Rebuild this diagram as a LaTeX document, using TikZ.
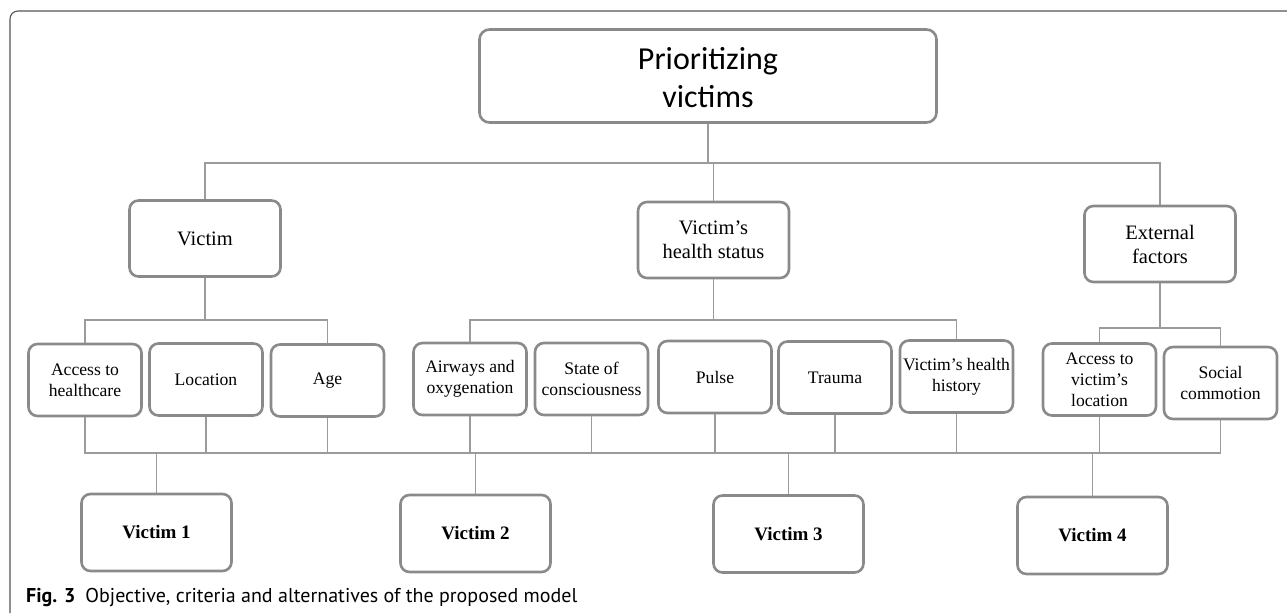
\documentclass[tikz,border=0pt]{standalone}
\usepackage{fontspec}
\setmainfont{Liberation Serif}
\newfontfamily\goalfont{Carlito}
\newfontfamily\capfont{PT Sans}
\usepackage{tikz}
\definecolor{boxc}{RGB}{138,138,138}
\definecolor{linkc}{RGB}{155,155,155}
\definecolor{framec}{RGB}{85,85,85}
\tikzset{
  goalbox/.style={draw=boxc,line width=2.6pt,rounded corners=10pt,minimum width=457pt,minimum height=93pt,align=center,font=\goalfont\fontsize{32}{38}\selectfont},
  critbox/.style={draw=boxc,line width=2.6pt,rounded corners=9pt,minimum width=151pt,minimum height=76pt,align=center,font=\fontsize{20.5}{24}\selectfont},
  subbox/.style={draw=boxc,line width=2.6pt,rounded corners=9pt,minimum width=113pt,minimum height=72pt,inner sep=1pt,align=center,font=\fontsize{17.6}{21}\selectfont},
  altbox/.style={draw=boxc,line width=2.6pt,rounded corners=9pt,minimum width=150pt,minimum height=77pt,align=center,font=\bfseries\fontsize{19}{22}\selectfont},
  link/.style={draw=linkc,line width=1.4pt}
}

\begin{document}
\begin{tikzpicture}[x=1pt,y=-1pt]
\useasboundingbox (0,0) rectangle (1287,613);
\draw[framec,line width=1.1pt,rounded corners=8pt] (10,613) -- (10,11) -- (1287,11);

\node[goalbox] (goal) at (708,76) {\raisebox{-5pt}[\height][\depth]{\begin{tabular}{@{}c@{}}Prioritizing\\victims\end{tabular}}};

\node[critbox] (vic) at (205,238.5) {Victim};
\node[critbox] (hstat) at (713.5,240) {Victim’s\\health status};
\node[critbox] (extf) at (1160,244) {External\\factors};

\node[subbox] (acchc) at (85,380) {Access to\\healthcare};
\node[subbox] (loc) at (206,379.5) {Location};
\node[subbox] (age) at (327.5,380.5) {Age};
\node[subbox] (airw) at (470,379) {Airways and\\oxygenation};
\node[subbox] (cons) at (591.5,379) {State of\\consciousness};
\node[subbox] (pulse) at (715,377) {Pulse};
\node[subbox] (trauma) at (835,377.5) {Trauma};
\node[subbox] (hist) at (956.5,376.5) {Victim’s health\\history};
\node[subbox] (accloc) at (1099.5,379.5) {Access to\\victim’s\\location};
\node[subbox] (socc) at (1220.5,383) {Social\\commotion};

\node[altbox] (v1) at (156.5,532.5) {Victim 1};
\node[altbox] (v2) at (475.5,533.5) {Victim 2};
\node[altbox] (v3) at (788.5,534) {Victim 3};
\node[altbox] (v4) at (1092.5,535.5) {Victim 4};

\coordinate (busA) at (0,163);
\coordinate (busB) at (0,320);
\coordinate (busE) at (0,328);
\coordinate (busC) at (0,453);

\draw[link] (goal.south) -- (goal.south |- busA);
\draw[link] (vic.north) |- (extf.north |- busA) -- (extf.north);
\draw[link] (hstat.north) -- (hstat.north |- busA);

\draw[link] (vic.south) -- (vic.south |- busB);
\draw[link] (acchc.north) |- (age.north |- busB) -- (age.north);
\draw[link] (hstat.south) -- (hstat.south |- busB);
\draw[link] (airw.north) |- (hist.north |- busB) -- (hist.north);
\draw[link] (extf.south) -- (extf.south |- busE);
\draw[link] (accloc.north) |- (socc.north |- busE) -- (socc.north);

\draw[link] (acchc.south) |- (socc.south |- busC) -- (socc.south);
\foreach \n in {loc,age,airw,cons,pulse,trauma,hist,accloc}{ \draw[link] (\n.south) -- (\n.south |- busC); }
\foreach \n in {v1,v2,v3,v4}{ \draw[link] (\n.north) -- (\n.north |- busC); }

\node[anchor=west,inner sep=0pt,font=\capfont\fontsize{20}{24}\selectfont] (cap) at (26,597) {\textbf{Fig. 3}\hspace{0.5em}Objective, criteria and alternatives of the proposed model};
\end{tikzpicture}
\end{document}
